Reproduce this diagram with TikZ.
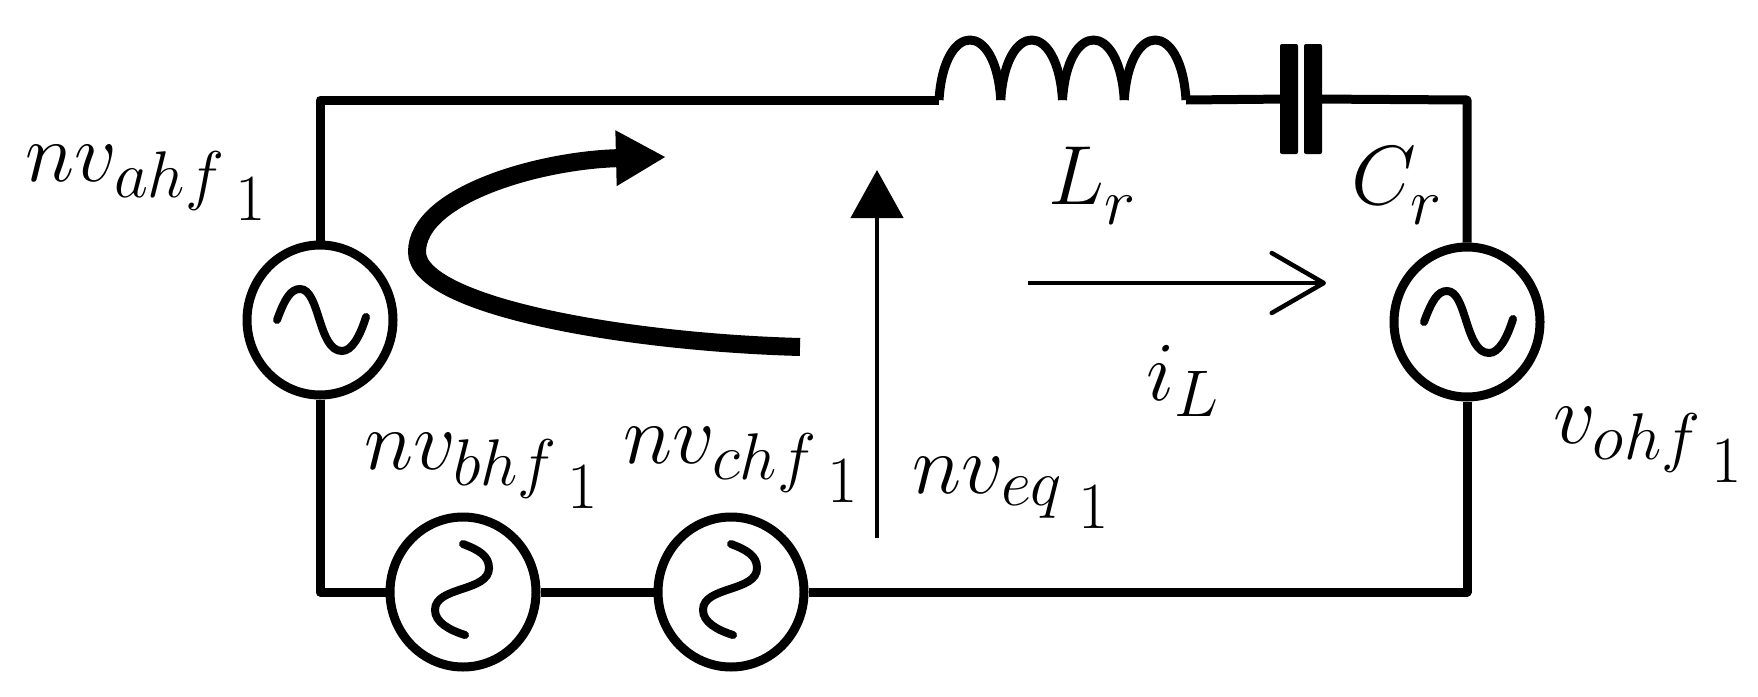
\documentclass[tikz,border=0pt]{standalone}
\usepackage{fix-cm}
\usetikzlibrary{arrows.meta,shapes.geometric,calc}
\DeclareMathSizes{84}{84}{66}{66}
\newcommand{\oneidx}{_{\;\lower13pt\hbox{$\scriptscriptstyle 1$}}}
\newcommand{\rdx}[1]{_{\lower#1pt\hbox{$\scriptstyle r$}}}
\begin{document}
\begin{tikzpicture}[x=1pt,y=-1pt,
    wire/.style={line width=9pt,line join=round},
    wave/.style={line width=8pt,line cap=round},
    source/.style={ellipse,draw,line width=9pt,inner sep=0pt,minimum width=146pt,minimum height=150pt},
    plate/.style={fill,rounded corners=2pt,inner sep=0pt,minimum width=18pt,minimum height=110pt},
    lbl/.style={anchor=base west,inner sep=0pt,font=\fontsize{84}{100}\selectfont}]

        \useasboundingbox (0,0) rectangle (1758,696);

        \begin{scope}[every node/.style={source}]
          \node (srca) at (320,320) {};
          \node (srcb) at (463,592) {};
          \node (srcc) at (731,592) {};
          \node (srco) at (1467,322) {};
        \end{scope}

        \node[plate] (capl) at (1289,99) {};
        \node[plate] (capr) at (1313,99) {};

        \coordinate (topl) at (320,100);
        \coordinate (topr) at (1467,100);
        \coordinate (botl) at (320,592);
        \coordinate (botr) at (1467,592);
        \coordinate (indl) at (939,100);
        \coordinate (indr) at (1186,100);

        \coordinate (pump1) at (800,347);
        \coordinate (pump2) at (417,252);
        \coordinate (pump3) at (666,157);
        \coordinate (eq1) at (877,538);
        \coordinate (eq2) at (877,170);
        \coordinate (il1) at (1028,283);
        \coordinate (il2) at (1326,283);

        \draw[wire] (srca.north) -- (topl) -- (indl);
        \draw[wire] (indr) -- (capl);
        \draw[wire] (capr) -- (topr) -- (srco.north);
        \draw[wire] (srca.south) -- (botl) -- (srcb.west);
        \draw[wire] (srcb.east) -- (srcc.west);
        \draw[wire] (srcc.east) -- (botr) -- (srco.south);

        \foreach \k in {0,1,2,3}
          \draw[wire] ($(indl)+(61.75*\k,0)$) .. controls ($(indl)+(5+61.75*\k,-80)$) and ($(indl)+(57+61.75*\k,-80)$) .. ($(indl)+(61.75+61.75*\k,0)$);

        \foreach \src in {srca,srco}
          \draw[wave,shift={(\src)}] (-43,0) .. controls (-35,-22) and (-29,-31) .. (-20,-31)
            .. controls (0,-31) and (-2,31) .. (22,31) .. controls (32,31) and (40,16) .. (46,-3);
        \foreach \src in {srcb,srcc}
          \draw[wave,shift={(\src)}] (0,-48) .. controls (16,-42) and (26,-36) .. (26,-24)
            .. controls (26,0) and (-28,-6) .. (-28,18) .. controls (-28,30) and (-14,38) .. (2,43);

        \draw[line width=18pt,-{Triangle[length=50pt,width=52pt]}] (pump1) .. controls (620,342) and (417,305) .. (pump2)
          .. controls (417,195) and (540,160) .. (pump3);
        \draw[line width=4.5pt,-{Triangle[length=48pt,width=52pt]}] (eq1) -- (eq2);
        \draw[line width=4.5pt,-{Straight Barb[length=52pt,width=60pt,round]}] (il1) -- (il2);

        \begin{scope}[every node/.style={lbl}]
          \node (lbla) at (25,181)   {$nv_{ahf\oneidx}$};
          \node (lblb) at (364,469)  {$nv_{bhf\oneidx}$};
          \node (lblc) at (623,463)  {$nv_{chf\oneidx}$};
          \node (lble) at (912,493)  {$nv_{eq\oneidx}$};
          \node (lblo) at (1553,443) {$v_{ohf\oneidx}$};
          \node (lbll) at (1048,204) {$L\rdx{8}$};
          \node (lblr) at (1351,204) {$C\rdx{8}$};
          \node (lbli) at (1146,400) {$i_L$};
        \end{scope}

      \end{tikzpicture}
\end{document}
